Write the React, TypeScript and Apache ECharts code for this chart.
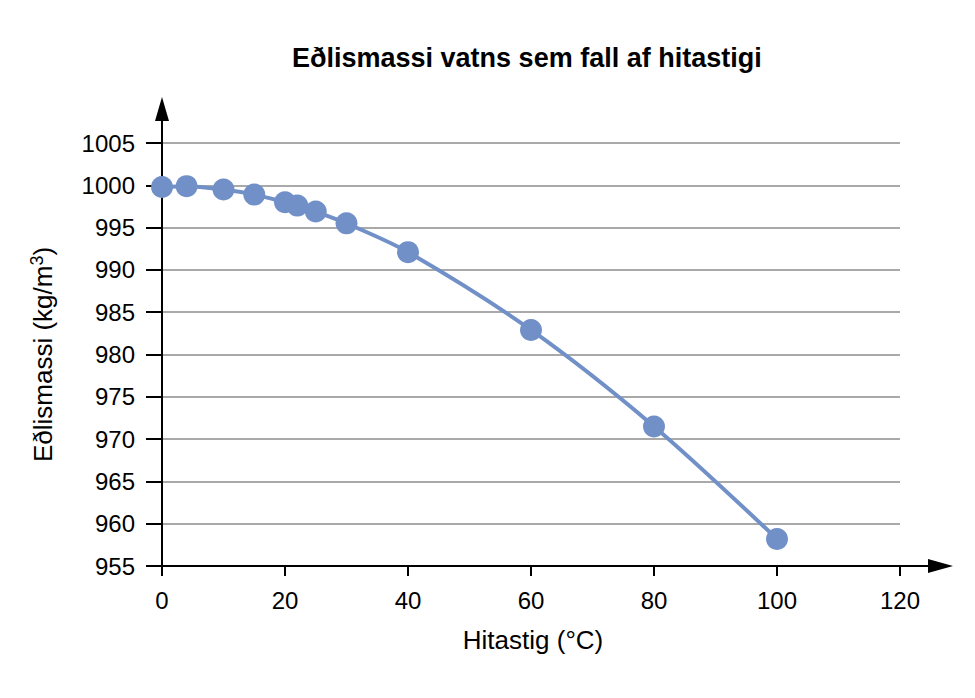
import React, { useEffect, useRef } from 'react';
import * as echarts from 'echarts';

// Temperature (°C) and density of water (kg/m³)
const temperatures = [0, 4, 10, 15, 20, 22, 25, 30, 40, 60, 80, 100];
const densities = [999.8, 999.9, 999.5, 998.9, 998.0, 997.6, 996.9, 995.5, 992.1, 982.9, 971.5, 958.2];

const xTicks = { min: 0, max: 120, interval: 20 };
const yTicks = { min: 955, max: 1005, interval: 5 };

const title = 'Eðlismassi vatns sem fall af hitastigi';
const xName = 'Hitastig (°C)';

const FONT = '"Liberation Sans", Arial, sans-serif';
const BLUE = '#7190c8';

export default function App() {
  const ref = useRef<HTMLDivElement>(null);

  useEffect(() => {
    document.body.style.margin = '0';
    if (!ref.current) return;
    const chart = echarts.init(ref.current, undefined, { renderer: 'svg' });

    // grid edges in pixels
    const left = 162;
    const right = 900;
    const top = 143;
    const bottom = 566;

    chart.setOption({
      animation: false,
      backgroundColor: '#fff',
      textStyle: { fontFamily: FONT },
      title: {
        text: title,
        left: 287,
        top: 39,
        textStyle: { fontFamily: FONT, fontSize: 27, fontWeight: 'bold', color: '#000' },
      },
      grid: { left, right: 975 - right, top, bottom: 698 - bottom, containLabel: false },
      xAxis: {
        type: 'value',
        min: xTicks.min,
        max: xTicks.max,
        interval: xTicks.interval,
        name: xName,
        nameLocation: 'middle',
        nameGap: 61,
        nameTextStyle: { fontFamily: FONT, fontSize: 26, color: '#000', align: 'center', padding: [0, 0, 0, 4] },
        axisLine: { onZero: false, lineStyle: { color: '#000', width: 2 } },
        axisTick: { show: true, length: 10, lineStyle: { color: '#000', width: 2 } },
        axisLabel: { margin: 22, fontFamily: FONT, fontSize: 24, color: '#000' },
        splitLine: { show: false },
      },
      yAxis: {
        type: 'value',
        min: yTicks.min,
        max: yTicks.max,
        interval: yTicks.interval,
        name: '{a|Eðlismassi (kg/m}{s|3}{a|)}',
        nameLocation: 'middle',
        nameGap: 104,
        nameRotate: 90,
        nameTextStyle: {
          rich: {
            a: { fontFamily: FONT, fontSize: 26, color: '#000' },
            s: { fontFamily: FONT, fontSize: 18, color: '#000', verticalAlign: 'top', padding: [0, 0, 12, 0] },
          },
        },
        axisLine: { show: true, onZero: false, lineStyle: { color: '#000', width: 2 } },
        axisTick: { show: true, length: 16, lineStyle: { color: '#000', width: 2 } },
        axisLabel: { margin: 27, fontFamily: FONT, fontSize: 24, color: '#000', formatter: (v: number) => String(v) },
        splitLine: { show: true, lineStyle: { color: '#8c8c8c', width: 1.5 } },
      },
      graphic: [
        // axis extensions with arrowheads
        { type: 'line', shape: { x1: right, y1: bottom, x2: 935, y2: bottom }, style: { stroke: '#000', lineWidth: 2 }, z: 10 },
        { type: 'polygon', shape: { points: [[953, bottom], [928, bottom - 7], [928, bottom + 7]] }, style: { fill: '#000' }, z: 10 },
        { type: 'line', shape: { x1: left, y1: top, x2: left, y2: 115 }, style: { stroke: '#000', lineWidth: 2 }, z: 10 },
        { type: 'polygon', shape: { points: [[left, 97], [left - 7, 121], [left + 7, 121]] }, style: { fill: '#000' }, z: 10 },
      ],
      series: [
        {
          type: 'line',
          data: temperatures.map((t, i) => [t, densities[i]]),
          smooth: 0.3,
          symbol: 'circle',
          symbolSize: 22,
          itemStyle: { color: BLUE },
          lineStyle: { color: BLUE, width: 4 },
          z: 5,
        },
      ],
    });

    return () => chart.dispose();
  }, []);

  return <div ref={ref} style={{ width: 975, height: 698 }} />;
}
